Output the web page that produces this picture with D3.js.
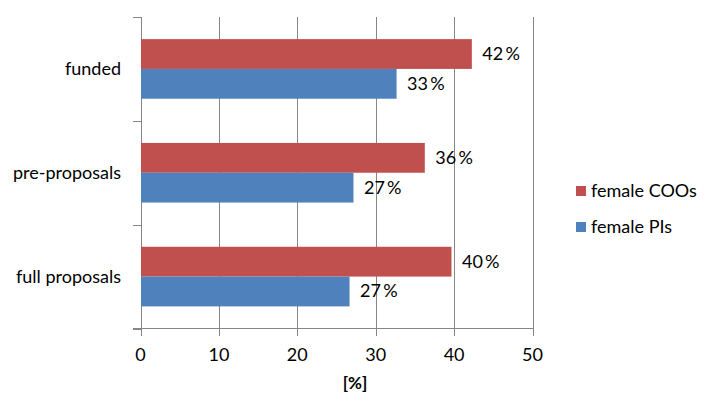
<!DOCTYPE html>
<html><head><meta charset="utf-8">
<script src="https://cdn.jsdelivr.net/npm/d3@7"></script>
<style>body{margin:0;background:#fff}svg{display:block}text{font-family:Lato,"Open Sans",sans-serif;fill:#000}</style>
</head><body><svg id="c" width="713" height="415"></svg>
<script>
const categories = ["funded", "pre-proposals", "full proposals"];
const seriesNames = ["female COOs", "female PIs"];
const coos = [42.2, 36.2, 39.6];
const pis = [32.6, 27.1, 26.6];
const cooLabels = ["42", "36", "40"];
const piLabels = ["33", "27", "27"];
const xTicks = [0, 10, 20, 30, 40, 50];
const colors = ["#C0504D", "#4F81BD"];

const svg = d3.select("#c");
const x = d3.scaleLinear().domain([0, 50]).range([140.5, 532.5]);
const y = d3.scaleBand().domain(categories).range([17, 328.5]).paddingInner(0.426).paddingOuter(0.213);
const ySub = d3.scaleBand().domain(seriesNames).range([0, y.bandwidth()]);
const grid = "#868686";

// gridlines
svg.append("g").selectAll("line").data(xTicks).join("line")
  .attr("x1", d => Math.round(x(d)) + 0.5).attr("x2", d => Math.round(x(d)) + 0.5)
  .attr("y1", 17).attr("y2", 336).attr("stroke", grid).attr("stroke-width", 1);
// y axis ticks (category boundaries)
svg.append("g").selectAll("line").data(categories.concat(["end"])).join("line")
  .attr("x1", 133).attr("x2", 141)
  .attr("y1", (d, i) => Math.round(17 + i * y.step()) + 0.5)
  .attr("y2", (d, i) => Math.round(17 + i * y.step()) + 0.5)
  .attr("stroke", grid);
// x axis line
svg.append("line").attr("x1", 133).attr("x2", 533).attr("y1", 328.5).attr("y2", 328.5).attr("stroke", grid);

const rows = categories.map((c, i) => ({c, vals: [coos[i], pis[i]], labs: [cooLabels[i], piLabels[i]]}));
const g = svg.append("g");
rows.forEach(r => {
  seriesNames.forEach((s, j) => {
    const y0 = y(r.c) + ySub(s);
    g.append("rect").attr("x", x(0) + 0.5).attr("y", y0)
      .attr("width", x(r.vals[j]) - x(0)).attr("height", ySub.bandwidth())
      .attr("fill", colors[j]);
    g.append("text").attr("x", x(r.vals[j]) + 11).attr("y", y0 + ySub.bandwidth() / 2 + 6)
      .attr("font-size", 18).text(r.labs[j] + "\u2009%");
  });
  svg.append("text").attr("x", 121).attr("y", y(r.c) + y.bandwidth() / 2 + 6)
    .attr("text-anchor", "end").attr("font-size", 18).text(r.c);
});

// x tick labels
svg.append("g").selectAll("text").data(xTicks).join("text")
  .attr("x", d => x(d)).attr("y", 361).attr("text-anchor", "middle")
  .attr("font-size", 18).text(d => d);
svg.append("text").attr("x", 355).attr("y", 389).attr("text-anchor", "middle")
  .attr("font-size", 17).attr("font-weight", "bold").text("[%]");

// legend
const leg = svg.append("g");
seriesNames.forEach((s, j) => {
  const ly = 191 + j * 36;
  leg.append("rect").attr("x", 576).attr("y", ly - 5).attr("width", 10).attr("height", 10).attr("fill", colors[j]);
  leg.append("text").attr("x", 591).attr("y", ly + 6).attr("font-size", 18).text(s);
});
</script></body></html>
